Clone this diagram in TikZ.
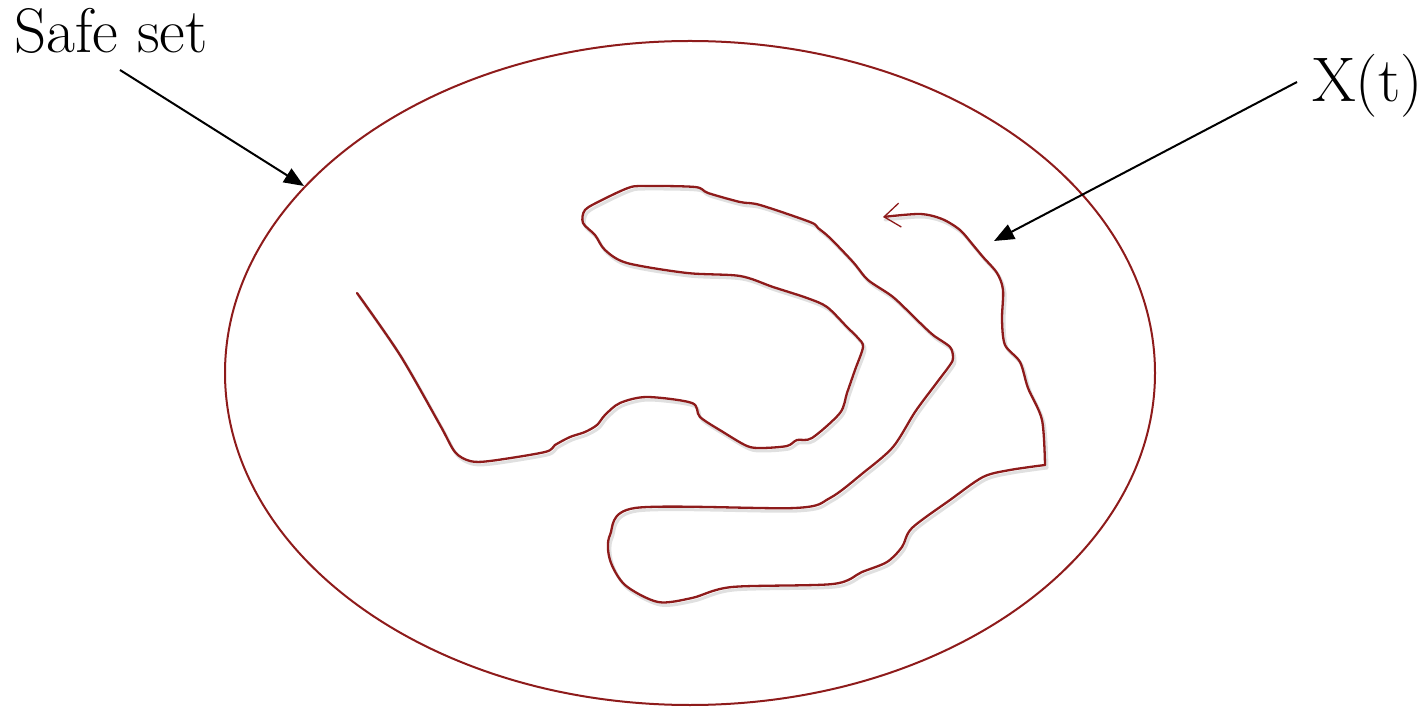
\documentclass[tikz,border=0pt]{standalone}
\usetikzlibrary{arrows.meta}
\definecolor{traj}{HTML}{8E1B1B}
\tikzset{
  conn/.style={line width=2pt, black, -{Triangle[length=20pt,width=16pt]}},
  txt/.style={inner sep=0pt, font=\rmfamily\fontsize{63}{70}\selectfont},
  redline/.style={traj, line width=2.3pt, line join=round, line cap=round},
  shade/.style={black!12, line width=3pt, line join=round, line cap=round, transform canvas={shift={(2pt,-3pt)}}},
}
\def\pathA{(357,293) (400,355) (440,425) (455,452) (470,461) (490,461) (545,452) (555,445) (570,437) (585,432) (597,425) (605,415) (620,403) (647,397) (692,403) (700,417) (723,432) (747,446) (762,448) (787,446) (797,440) (812,438) (840,413) (847,393) (855,370) (863,347) (858,338) (847,327) (827,307) (807,298) (773,287) (740,276) (687,273) (627,263) (605,250) (595,235) (583,223) (585,210) (602,200) (628,188) (643,186) (695,187) (708,193) (740,202) (760,205) (810,222) (818,228) (830,238) (853,262) (868,280) (893,297) (917,320) (933,335) (950,347) (953,358) (950,365) (935,385) (915,412) (893,447) (863,473) (830,498) (795,508) (635,508) (610,535) (610,560) (625,585) (658,602) (692,598) (732,587) (833,584) (862,572) (887,562) (902,547) (912,528) (950,500) (983,477) (1010,470) (1045,465)}
\def\pathB{(1045,465) (1042,420) (1028,388) (1020,362) (1005,345) (1002,320) (1003,290) (997,273) (983,257) (973,245) (960,230) (942,219) (920,214) (883,217)}
\begin{document}
\begin{tikzpicture}[x=1pt,y=-1pt]
\useasboundingbox (0,0) rectangle (1425,708);
% safe set
\draw[traj, line width=2pt] (690,373) ellipse [x radius=465, y radius=332];
% trajectory shadow
\draw[shade] plot[smooth, tension=0.5] coordinates {\pathA};
\draw[shade] plot[smooth, tension=0.5] coordinates {\pathB};
% trajectory
\draw[redline] plot[smooth, tension=0.5] coordinates {\pathA};
\draw[redline, -{Straight Barb[length=16pt,width=24pt,line width=1.3pt]}] plot[smooth, tension=0.5] coordinates {\pathB};
% labels
\node[txt, anchor=base west] (safe) at (14,53) {Safe set};
\node[txt, anchor=base east] (xt) at (1423,102) {X(t)};
\coordinate (safetail) at (120,70);
\coordinate (safetip) at (304,186);
\coordinate (xttail) at (1297,82);
\coordinate (xttip) at (994,241);
\draw[conn] (safetail) -- (safetip);
\draw[conn] (xttail) -- (xttip);
\end{tikzpicture}
\end{document}
